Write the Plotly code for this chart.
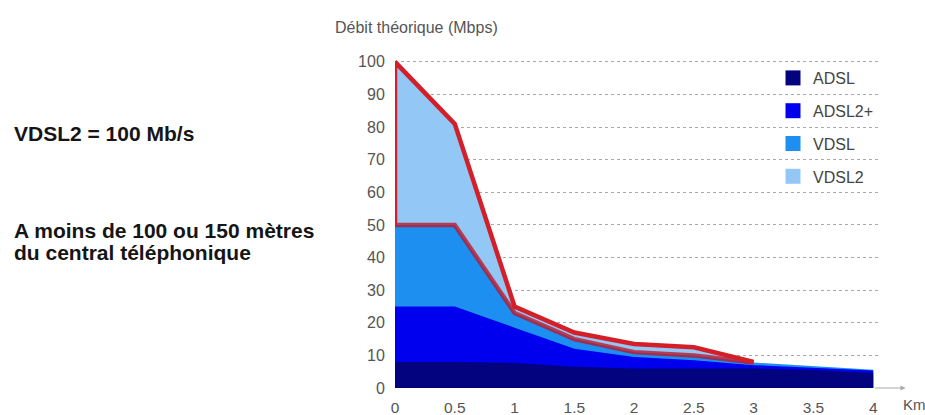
import plotly.graph_objects as go

# Distance from the exchange (km)
km = [0, 0.5, 1, 1.5, 2, 2.5, 3, 3.5, 4]
km_vdsl2 = [0, 0.5, 1, 1.5, 2, 2.5, 3]

# Theoretical bitrate (Mbps) per technology
adsl = [8, 8, 7.7, 6.5, 6, 6, 6, 5.5, 4.6]
adsl2p = [25, 25, 18.5, 12, 9.5, 8.5, 7, 6.2, 5.4]
vdsl = [50, 50, 23, 15, 11, 10, 7.8, 6.8, 5.6]
vdsl2 = [100, 81, 25, 17, 13.5, 12.5, 8]

series_names = ["ADSL", "ADSL2+", "VDSL", "VDSL2"]
series_colors = ["#03037f", "#0000ef", "#1c8ff0", "#93c8f6"]

x_ticks = [0, 0.5, 1, 1.5, 2, 2.5, 3, 3.5, 4]
x_tick_labels = ["0", "0.5", "1", "1.5", "2", "2.5", "3", "3.5", "4"]
y_ticks = list(range(0, 101, 10))

# Page geometry
W, H = 925, 415
L, R, T, B = 395, 47, 57, 27


def paper_x(px):
    return (px - L) / (W - L - R)


def paper_y(py):
    return (H - B - py) / (H - T - B)


fig = go.Figure()

# Areas, widest technology at the back
area_data = [
    (km_vdsl2, vdsl2, series_colors[3]),
    (km, vdsl, series_colors[2]),
    (km, adsl2p, series_colors[1]),
    (km, adsl, series_colors[0]),
]
for xs, ys, col in area_data:
    fig.add_trace(go.Scatter(
        x=xs, y=ys, mode="lines", fill="tozeroy", fillcolor=col,
        line=dict(width=0, color=col), showlegend=False, hoverinfo="skip",
    ))

# Red outline around the VDSL2-only band
n2 = len(km_vdsl2)
fig.add_trace(go.Scatter(
    x=km[:n2], y=vdsl[:n2], mode="lines",
    line=dict(color="rgba(190,20,40,0.78)", width=4.5),
    showlegend=False, hoverinfo="skip", cliponaxis=False,
))
fig.add_trace(go.Scatter(
    x=[km_vdsl2[0]] + km_vdsl2, y=[vdsl[0]] + vdsl2, mode="lines",
    line=dict(color="#d41e28", width=4.5),
    showlegend=False, hoverinfo="skip", cliponaxis=False,
))

# Legend entries
for name, col in zip(series_names, series_colors):
    fig.add_trace(go.Scatter(
        x=[None], y=[None], mode="markers", name=name, legendgroup=name,
        marker=dict(symbol="square", size=15, color=col),
    ))

annotations = [
    dict(text="Débit théorique (Mbps)", x=paper_x(333), y=paper_y(27),
         xanchor="left", yanchor="middle",
         font=dict(size=16, color="#555555")),
    dict(text="<b>VDSL2 = 100 Mb/s</b>", x=paper_x(12), y=paper_y(133),
         xanchor="left", yanchor="middle",
         font=dict(size=21, color="#151515")),
    dict(text="<b>A moins de 100 ou 150 mètres</b>", x=paper_x(12), y=paper_y(230),
         xanchor="left", yanchor="middle",
         font=dict(size=21, color="#151515")),
    dict(text="<b>du central téléphonique</b>", x=paper_x(12), y=paper_y(253),
         xanchor="left", yanchor="middle",
         font=dict(size=21, color="#151515")),
    dict(text="Km", x=paper_x(901), y=paper_y(405),
         xanchor="left", yanchor="middle",
         font=dict(size=15, color="#555555")),
]
for a in annotations:
    a.update(xref="paper", yref="paper", showarrow=False)

# Axis arrow
annotations.append(dict(
    x=4.27, y=0, ax=4.0, ay=0, xref="x", yref="y", axref="x", ayref="y",
    text="", showarrow=True, arrowhead=2, arrowsize=1, arrowwidth=1,
    arrowcolor="#aaaaaa",
))

fig.update_layout(
    width=W, height=H,
    margin=dict(l=L, r=R, t=T, b=B, pad=0, autoexpand=False),
    paper_bgcolor="white", plot_bgcolor="white",
    font=dict(family="Liberation Sans, Arial, sans-serif", color="#555555"),
    annotations=annotations,
    legend=dict(
        x=paper_x(773), y=paper_y(61), xanchor="left", yanchor="top",
        font=dict(size=16, color="#444444"), bgcolor="rgba(0,0,0,0)",
        tracegroupgap=9, traceorder="grouped",
    ),
    showlegend=True,
)
fig.update_xaxes(
    range=[0, 4.04], tickvals=x_ticks, ticktext=x_tick_labels,
    showgrid=False, zeroline=False, showline=False, automargin=False,
    ticks="outside", ticklen=5, tickcolor="rgba(0,0,0,0)",
    tickfont=dict(size=15.5, color="#555555"), fixedrange=True,
)
fig.update_yaxes(
    range=[0, 101.5], tickvals=y_ticks,
    showgrid=True, gridcolor="#a8a8a8", griddash="dot", gridwidth=1.2,
    zeroline=False, showline=False, automargin=False,
    ticks="outside", ticklen=6, tickcolor="rgba(0,0,0,0)",
    tickfont=dict(size=16, color="#555555"), fixedrange=True,
)

fig.write_html("out.html")
